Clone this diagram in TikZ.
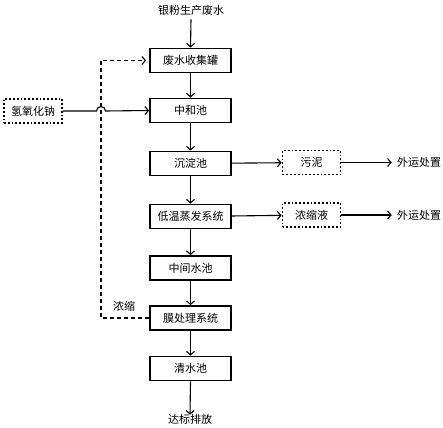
\documentclass[tikz,border=0pt]{standalone}
\usepackage{fontspec}
\setmainfont{Noto Sans CJK SC}
\usetikzlibrary{arrows.meta}
\begin{document}
\begin{tikzpicture}[x=1pt,y=-1pt,
  mainbox/.style={draw,line width=1.8pt,minimum width=81pt,minimum height=24pt,inner sep=0pt,font=\fontsize{11}{12}\selectfont},
  dotbox/.style={draw,dotted,line width=1.8pt,minimum width=58pt,minimum height=24pt,inner sep=0pt,font=\fontsize{11}{12}\selectfont},
  lbl/.style={inner sep=1pt,font=\fontsize{11}{12}\selectfont},
  arr/.style={line width=1.1pt,-{Straight Barb[length=3.5pt,width=8pt,line width=1.1pt]}},
  darr/.style={arr,dashed,dash pattern=on 4pt off 3pt}]
\useasboundingbox (0,0) rectangle (443,427);
\node[lbl] (src) at (191,10) {银粉生产废水};
\node[mainbox] (b1) at (190.5,60.5) {废水收集罐};
\node[mainbox] (b2) at (190.5,110.5) {中和池};
\node[mainbox] (b3) at (190.5,163.5) {沉淀池};
\node[mainbox] (b4) at (190.5,216.5) {低温蒸发系统};
\node[mainbox] (b5) at (190.5,268) {中间水池};
\node[mainbox] (b6) at (190.5,318) {膜处理系统};
\node[mainbox] (b7) at (190.5,368.5) {清水池};
\node[lbl] (out) at (190,419) {达标排放};
\node[dotbox] (naoh) at (33,111) {氢氧化钠};
\node[dotbox] (mud) at (311.5,162.5) {污泥};
\node[dotbox] (conc) at (311.5,215) {浓缩液};
\node[lbl] (o1) at (419,162.5) {外运处置};
\node[lbl] (o2) at (419,215) {外运处置};
\node[lbl] (nl) at (124,306) {浓缩};
\coordinate (dbot) at (101,318);
\coordinate (dtop) at (101,60.5);
\draw[arr] (src.south) ++(0,3) -- (b1.north);
\draw[arr] (b1) -- (b2);
\draw[arr] (b2) -- (b3);
\draw[arr] (b3) -- (b4);
\draw[arr] (b4) -- (b5);
\draw[arr] (b5) -- (b6);
\draw[arr] (b6) -- (b7);
\draw[arr] (b7.south) -- ([yshift=-2pt]out.north);
\draw[arr] (b3) -- (mud);
\draw[arr] (b4) -- (conc);
\draw[arr] (mud) -- ([xshift=-4pt]o1.west);
\draw[arr] (conc) -- ([xshift=-4pt]o2.west);
\draw[darr] (b6.west) -- (dbot) -- (dtop) -- ([xshift=-3pt]b1.west);
\draw[arr] (naoh.east) -- (96.5,111) arc[start angle=180,end angle=360,radius=4.5] -- (b2.west);
\end{tikzpicture}
\end{document}
